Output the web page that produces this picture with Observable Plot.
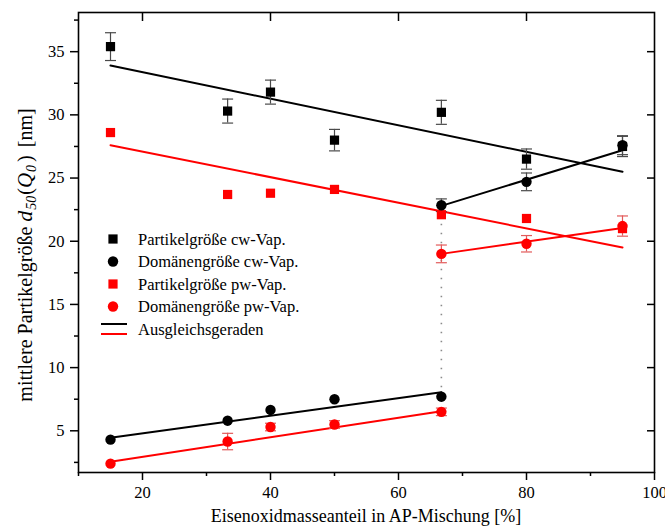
<!DOCTYPE html>
<html>
<head>
<meta charset="utf-8">
<script src="https://cdn.jsdelivr.net/npm/d3@7"></script>
<script src="https://cdn.jsdelivr.net/npm/@observablehq/plot@0.6"></script>
<style>
  body { margin: 0; background: #fff; }
  #chart { width: 665px; height: 530px; }
  #chart svg, #chart svg text { font-family: "Liberation Serif", "Times New Roman", serif; }
</style>
</head>
<body>
<div id="chart"></div>
<script>
// Eisenoxidmasseanteil [%]
const fractions = [15, 33.3, 40, 50, 66.7, 80, 95];
const lowFractions = [15, 33.3, 40, 50, 66.7];
const highFractions = [66.7, 80, 95];

// Partikelgröße cw-Vap. [nm] with standard deviation
const particleCw = [35.4, 30.3, 31.8, 28.0, 30.2, 26.5, 27.5];
const particleCwErr = [1.1, 0.95, 0.95, 0.85, 0.95, 0.8, 0.8];

// Partikelgröße pw-Vap. [nm]
const particlePw = [28.6, 23.7, 23.8, 24.1, 22.1, 21.8, 21.0];

// Domänengröße cw-Vap. [nm], below and above the transition
const domainCwLow = [4.3, 5.8, 6.65, 7.5, 7.7];
const domainCwLowErr = [0, 0, 0, 0, 0];
const domainCwHigh = [22.85, 24.7, 27.6];
const domainCwHighErr = [0.5, 0.7, 0.75];

// Domänengröße pw-Vap. [nm], below and above the transition
const domainPwLow = [2.4, 4.15, 5.3, 5.5, 6.5];
const domainPwLowErr = [0, 0.65, 0.3, 0.3, 0.3];
const domainPwHigh = [19.0, 19.8, 21.2];
const domainPwHighErr = [0.7, 0.65, 0.8];

// Ausgleichsgeraden (end values of each fitted line)
const fullRange = [15, 95];
const lowRange = [15, 66.7];
const highRange = [66.7, 95];
const fitParticleCw = [33.9, 25.5];
const fitParticlePw = [27.6, 19.5];
const fitDomainCwLow = [4.45, 8.05];
const fitDomainCwHigh = [22.8, 27.2];
const fitDomainPwLow = [2.55, 6.55];
const fitDomainPwHigh = [19.0, 21.05];

// Axis ticks
const xMajorTicks = [20, 40, 60, 80, 100];
const xMinorTicks = [10, 30, 50, 70, 90];
const xTopTicks = [20, 40, 60, 80];
const yMajorTicks = [5, 10, 15, 20, 25, 30, 35];
const yMinorTicks = [2.5, 7.5, 12.5, 17.5, 22.5, 27.5, 32.5, 37.5];

const legendLabels = [
  "Partikelgröße cw-Vap.",
  "Domänengröße cw-Vap.",
  "Partikelgröße pw-Vap.",
  "Domänengröße pw-Vap.",
  "Ausgleichsgeraden"
];

const BLACK = "#000000";
const RED = "#ff0000";
const BLACK_ERR = "#4a4a4a";
const RED_ERR = "#e25a5a";
const serif = "'Liberation Serif', 'Times New Roman', serif";

const rows = (xs, ys, errs) => xs.map((x, i) => ({x, y: ys[i], e: errs ? errs[i] : 0}));

// horizontal cap drawn at each end of an error bar
const capSymbol = {
  draw(ctx, size) {
    const w = Math.sqrt(size / Math.PI);
    ctx.moveTo(-w, 0);
    ctx.lineTo(w, 0);
  }
};

function errorBars(data, color) {
  const d = data.filter(r => r.e > 0);
  return [
    Plot.ruleX(d, {x: "x", y1: r => r.y - r.e, y2: r => r.y + r.e, stroke: color, strokeWidth: 1.2}),
    Plot.dot(d, {x: "x", y: r => r.y - r.e, symbol: capSymbol, r: 5.5, stroke: color, fill: "none", strokeWidth: 1.2}),
    Plot.dot(d, {x: "x", y: r => r.y + r.e, symbol: capSymbol, r: 5.5, stroke: color, fill: "none", strokeWidth: 1.2})
  ];
}

const fitLine = (xs, ys, color) =>
  Plot.line(rows(xs, ys), {x: "x", y: "y", stroke: color, strokeWidth: 2});

const pCw = rows(fractions, particleCw, particleCwErr);
const pPw = rows(fractions, particlePw);
const dCwLow = rows(lowFractions, domainCwLow, domainCwLowErr);
const dCwHigh = rows(highFractions, domainCwHigh, domainCwHighErr);
const dPwLow = rows(lowFractions, domainPwLow, domainPwLowErr);
const dPwHigh = rows(highFractions, domainPwHigh, domainPwHighErr);

// dotted connector at the transition fraction
const transition = [{x: lowFractions[4], y1: domainCwLow[4], y2: particlePw[4]}];

const chart = Plot.plot({
  width: 665,
  height: 530,
  marginLeft: 78,
  marginRight: 11,
  marginTop: 12,
  marginBottom: 58,
  style: {
    fontFamily: serif,
    fontSize: "16.5px",
    color: "black",
    background: "white"
  },
  x: {domain: [10, 100]},
  y: {domain: [1.7, 38.1]},
  marks: [
    Plot.ruleX(transition, {x: "x", y1: "y1", y2: "y2", stroke: "#8a8a8a", strokeWidth: 1.6, strokeDasharray: "1.4,7.6"}),

    fitLine(fullRange, fitParticleCw, BLACK),
    fitLine(fullRange, fitParticlePw, RED),
    fitLine(lowRange, fitDomainCwLow, BLACK),
    fitLine(highRange, fitDomainCwHigh, BLACK),
    fitLine(lowRange, fitDomainPwLow, RED),
    fitLine(highRange, fitDomainPwHigh, RED),

    ...errorBars(pCw, BLACK_ERR),
    ...errorBars(dCwHigh, BLACK_ERR),
    ...errorBars(dPwLow, RED_ERR),
    ...errorBars(dPwHigh, RED_ERR),

    Plot.dot(pPw, {x: "x", y: "y", symbol: "square", r: 5.2, fill: RED}),
    Plot.dot(pCw, {x: "x", y: "y", symbol: "square", r: 5.2, fill: BLACK}),
    Plot.dot(dCwLow, {x: "x", y: "y", symbol: "circle", r: 5.2, fill: BLACK}),
    Plot.dot(dCwHigh, {x: "x", y: "y", symbol: "circle", r: 5.2, fill: BLACK}),
    Plot.dot(dPwLow, {x: "x", y: "y", symbol: "circle", r: 5.2, fill: RED}),
    Plot.dot(dPwHigh, {x: "x", y: "y", symbol: "circle", r: 5.2, fill: RED}),

    Plot.axisX({ticks: xMajorTicks, tickSize: 8, tickPadding: 6, label: null, strokeWidth: 1.5, fontSize: 16.5}),
    Plot.axisX({ticks: xMinorTicks, tickSize: 4, tickFormat: () => "", label: null, strokeWidth: 1.5}),
    Plot.axisX({anchor: "top", ticks: xTopTicks, tickSize: -8, tickFormat: () => "", label: null, strokeWidth: 1.5}),
    Plot.axisY({ticks: yMajorTicks, tickSize: 8, tickPadding: 6, label: null, strokeWidth: 1.5, fontSize: 16.5}),
    Plot.axisY({ticks: yMinorTicks, tickSize: 4, tickFormat: () => "", label: null, strokeWidth: 1.5}),
    Plot.axisY({anchor: "right", ticks: yMajorTicks, tickSize: -8, tickFormat: () => "", label: null, strokeWidth: 1.5}),
    Plot.frame({stroke: "black", strokeWidth: 1.6})
  ]
});

const svg = d3.select(chart);

// x-axis title
svg.append("text")
  .attr("x", 366).attr("y", 522)
  .attr("text-anchor", "middle")
  .attr("font-family", serif).attr("font-size", 18).attr("fill", "black")
  .text("Eisenoxidmasseanteil in AP-Mischung [%]");

// y-axis title with italic symbol and subscripts
const yTitle = svg.append("text")
  .attr("transform", "translate(32,255) rotate(-90)")
  .attr("text-anchor", "middle")
  .attr("font-family", serif).attr("font-size", 20).attr("fill", "black");
yTitle.append("tspan").text("mittlere Partikelgröße ");
yTitle.append("tspan").attr("font-style", "italic").attr("font-size", 22).text("d");
yTitle.append("tspan").attr("font-style", "italic").attr("font-size", 14).attr("dy", 4).attr("dx", 1).text("50");
yTitle.append("tspan").attr("dy", -4).attr("dx", 1).text("(");
yTitle.append("tspan").attr("font-style", "italic").attr("font-size", 21).text("Q");
yTitle.append("tspan").attr("font-style", "italic").attr("font-size", 14).attr("dy", 4).attr("dx", 1).text("0");
yTitle.append("tspan").attr("dy", -4).attr("dx", 3).text(")");
yTitle.append("tspan").attr("dx", 8).text("[nm]");

// legend
const legend = svg.append("g")
  .attr("font-family", serif).attr("font-size", 16.5).attr("text-anchor", "start");
const legendSymbols = [
  {shape: d3.symbolSquare, color: BLACK},
  {shape: d3.symbolCircle, color: BLACK},
  {shape: d3.symbolSquare, color: RED},
  {shape: d3.symbolCircle, color: RED}
];
const legendTop = 239, legendStep = 22.5, markerX = 113, textX = 138;
legendSymbols.forEach((s, i) => {
  const cy = legendTop + i * legendStep;
  legend.append("path")
    .attr("transform", `translate(${markerX},${cy})`)
    .attr("d", d3.symbol(s.shape, Math.PI * 27)())
    .attr("fill", s.color);
  legend.append("text")
    .attr("x", textX).attr("y", cy).attr("dy", "0.35em")
    .attr("text-anchor", "start")
    .attr("fill", "black")
    .text(legendLabels[i]);
});
const lineY = legendTop + 4 * legendStep;
legend.append("line").attr("x1", 101).attr("x2", 127).attr("y1", lineY - 5).attr("y2", lineY - 5)
  .attr("stroke", BLACK).attr("stroke-width", 2);
legend.append("line").attr("x1", 101).attr("x2", 127).attr("y1", lineY + 5).attr("y2", lineY + 5)
  .attr("stroke", RED).attr("stroke-width", 2);
legend.append("text")
  .attr("x", textX).attr("y", lineY).attr("dy", "0.35em")
  .attr("text-anchor", "start")
  .attr("fill", "black")
  .text(legendLabels[4]);

document.getElementById("chart").appendChild(chart);
</script>
</body>
</html>
